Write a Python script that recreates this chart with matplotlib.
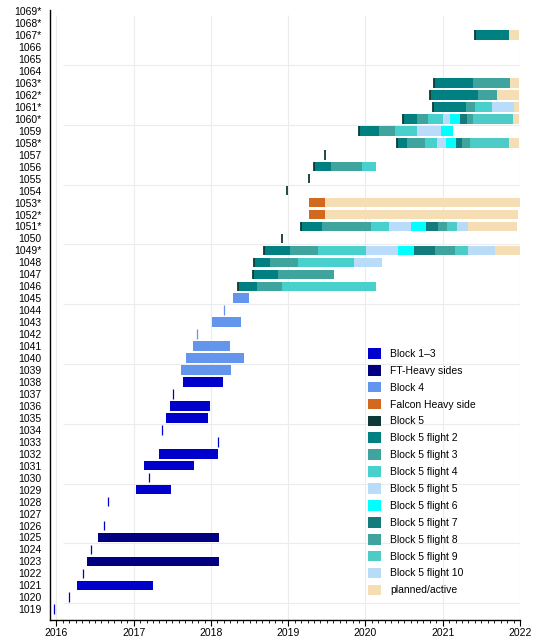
import matplotlib
matplotlib.use('Agg')
import matplotlib.pyplot as plt
from matplotlib.patches import Patch
from matplotlib.ticker import MultipleLocator

plt.rcParams['font.family'] = ['Liberation Sans', 'DejaVu Sans']

# booster serials on the y axis, '*' = still active
boosters = list(range(1019, 1070))
starred = [1049, 1051, 1052, 1053, 1058, 1060, 1061, 1062, 1063, 1067, 1068, 1069]

# first and last flight (decimal years) per booster
block13_rows = [1019, 1020, 1021, 1022, 1024, 1026, 1028, 1029, 1030, 1031,
                1032, 1033, 1034, 1035, 1036, 1037, 1038]
block13_first = [2015.973, 2016.167, 2016.266, 2016.348, 2016.451, 2016.620, 2016.671,
                 2017.030, 2017.202, 2017.133, 2017.327, 2018.094, 2017.370, 2017.418,
                 2017.469, 2017.512, 2017.638]
block13_last = [2015.973, 2016.167, 2017.250, 2016.348, 2016.451, 2016.620, 2016.671,
                2017.483, 2017.202, 2017.780, 2018.090, 2018.094, 2017.370, 2017.961,
                2017.987, 2017.512, 2018.155]

ftheavy_rows = [1023, 1025]
ftheavy_first = [2016.396, 2016.538]
ftheavy_last = [2018.103, 2018.103]

block4_rows = [1039, 1040, 1041, 1042, 1043, 1044, 1045]
block4_first = [2017.616, 2017.677, 2017.771, 2017.823, 2018.013, 2018.172, 2018.288]
block4_last = [2018.259, 2018.427, 2018.246, 2017.823, 2018.384, 2018.172, 2018.488]

fhside_rows = [1052, 1053]
fhside_first = [2019.268, 2019.268]
fhside_last = [2019.475, 2019.475]

# Block 5: every flight date
b5_rows = [1046, 1047, 1048, 1049, 1050, 1051, 1054, 1055, 1056, 1057,
           1058, 1059, 1060, 1061, 1062, 1063, 1067]
b5_flights = [
    [2018.353, 2018.591, 2018.915, 2020.135],
    [2018.547, 2018.871, 2019.595],
    [2018.560, 2018.763, 2019.132, 2019.850, 2020.210],
    [2018.690, 2019.022, 2019.387, 2020.005, 2020.417, 2020.626, 2020.898,
     2021.157, 2021.329, 2021.674],
    [2018.922],
    [2019.164, 2019.432, 2020.070, 2020.307, 2020.583, 2020.781, 2020.933,
     2021.049, 2021.191, 2021.329],
    [2018.979],
    [2019.272],
    [2019.336, 2019.552, 2019.957, 2020.131],
    [2019.475],
    [2020.410, 2020.532, 2020.768, 2020.920, 2021.040, 2021.178, 2021.251,
     2021.351, 2021.858],
    [2019.918, 2020.173, 2020.380, 2020.661, 2020.972, 2021.127],
    [2020.488, 2020.661, 2020.811, 2021.005, 2021.092, 2021.221, 2021.308,
     2021.393, 2021.911],
    [2020.876, 2021.299, 2021.415, 2021.644, 2021.920],
    [2020.833, 2021.458, 2021.696],
    [2020.889, 2021.394, 2021.877],
    [2021.415, 2021.855],
]

planned_rows = [1049, 1051, 1052, 1053, 1058, 1060, 1061, 1062, 1063, 1067]
planned_end = [2021.997, 2021.955, 2021.968, 2021.997, 2021.988, 2021.988,
               2021.988, 2021.988, 2021.988, 2021.988]

c_block13 = '#0000CD'
c_ftheavy = '#000080'
c_block4 = '#6495ED'
c_fhside = '#D2691E'
b5_colors = ['#0f3838', '#008080', '#40a49e', '#48D1CC', '#b9dcfa',
             '#00FFFF', '#137b7b', '#40a49e', '#4dcbc6', '#b9dcf6']
c_planned = '#F5DEB3'

legend_labels = ['Block 1\u20133', 'FT-Heavy sides', 'Block 4', 'Falcon Heavy side',
                 'Block 5', 'Block 5 flight 2', 'Block 5 flight 3', 'Block 5 flight 4',
                 'Block 5 flight 5', 'Block 5 flight 6', 'Block 5 flight 7',
                 'Block 5 flight 8', 'Block 5 flight 9', 'Block 5 flight 10',
                 'planned/active']
legend_colors = [c_block13, c_ftheavy, c_block4, c_fhside] + b5_colors + [c_planned]

H = 0.8

fig = plt.figure(figsize=(5.5, 6.4), dpi=100)
ax = fig.add_axes([50 / 550, 1 - 620 / 640, 470 / 550, 610 / 640])


def draw_spans(rows, first, last, color):
    for r, a, b in zip(rows, first, last):
        if b - a < 0.005:
            ax.vlines(a, r - H / 2, r + H / 2, color=color, lw=0.9, zorder=3)
        else:
            ax.barh(r, b - a, left=a, height=H, color=color, lw=0, zorder=3)


# grid
ax.vlines(range(2016, 2023), 1018.1, 1068.7, color='#ececec', lw=0.8, zorder=0)
ax.hlines([1019.5 + 5 * k for k in range(10)], 2016.08, 2022, color='#ececec', lw=0.8, zorder=0)

draw_spans(block13_rows, block13_first, block13_last, c_block13)
draw_spans(ftheavy_rows, ftheavy_first, ftheavy_last, c_ftheavy)
draw_spans(block4_rows, block4_first, block4_last, c_block4)
draw_spans(fhside_rows, fhside_first, fhside_last, c_fhside)

last_flight = dict(zip(fhside_rows, fhside_last))
for r, dates in zip(b5_rows, b5_flights):
    for i in range(len(dates) - 1):
        ax.barh(r, dates[i + 1] - dates[i], left=dates[i], height=H,
                color=b5_colors[i + 1], lw=0, zorder=3)
    ax.vlines(dates[0], r - H / 2, r + H / 2, color=b5_colors[0], lw=1.3, zorder=4)
    last_flight[r] = dates[-1]

for r, end in zip(planned_rows, planned_end):
    start = last_flight[r]
    ax.barh(r, end - start, left=start, height=H, color=c_planned, lw=0, zorder=2)

ax.set_xlim(2015.917, 2022)
ax.set_ylim(1018.1, 1069.1)

ax.set_xticks(range(2016, 2023))
ax.xaxis.set_minor_locator(MultipleLocator(1 / 12))
ax.tick_params(axis='x', which='major', length=4, width=0.8, labelsize=7.5, pad=2)
ax.tick_params(axis='x', which='minor', length=2.5, width=0.6)

ax.set_yticks(boosters)
ax.set_yticklabels([f'{b}*' if b in starred else str(b) for b in boosters])
ax.tick_params(axis='y', length=0, labelsize=7.5, pad=6)

for s in ['top', 'right']:
    ax.spines[s].set_visible(False)
ax.spines['left'].set_linewidth(1.0)
ax.spines['bottom'].set_linewidth(1.0)

handles = [Patch(facecolor=c, edgecolor='none') for c in legend_colors]
ax.legend(handles, legend_labels, loc='upper left', bbox_to_anchor=(368 / 550, 1 - 348 / 640),
          bbox_transform=fig.transFigure, frameon=False, fontsize=7.5,
          handlelength=1.25, handleheight=1.2, handletextpad=0.85,
          labelspacing=0.58, borderpad=0, borderaxespad=0)

fig.savefig('out.png', dpi=100)
